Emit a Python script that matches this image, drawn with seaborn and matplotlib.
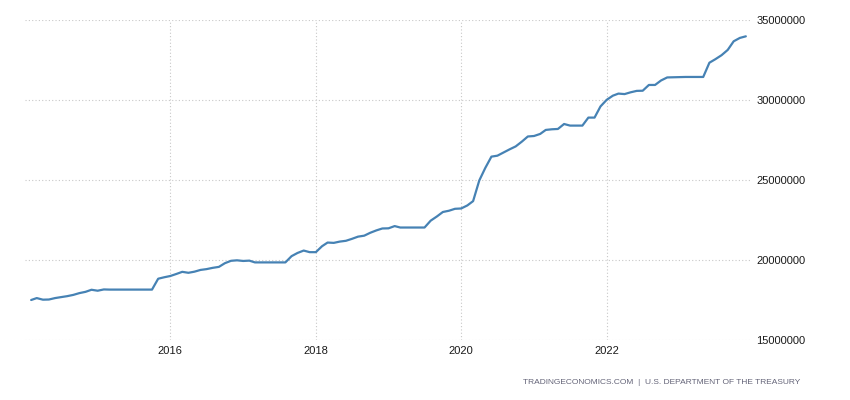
import pandas as pd
import seaborn as sns
import matplotlib
import matplotlib.pyplot as plt
import matplotlib.dates as mdates
from matplotlib.ticker import FuncFormatter

matplotlib.use("Agg")

# US government debt, USD trillion, monthly Feb 2014 - Dec 2023
debt_2014 = [17.50, 17.62, 17.52, 17.53, 17.62, 17.68, 17.74, 17.82, 17.93, 18.01, 18.14]
debt_2015 = [18.08, 18.16, 18.15, 18.15, 18.15, 18.15, 18.15, 18.15, 18.15, 18.15, 18.83, 18.92]
debt_2016 = [19.00, 19.13, 19.26, 19.20, 19.27, 19.38, 19.43, 19.51, 19.57, 19.80, 19.95, 19.98]
debt_2017 = [19.94, 19.96, 19.85, 19.85, 19.85, 19.85, 19.85, 19.85, 20.24, 20.44, 20.59, 20.49]
debt_2018 = [20.49, 20.86, 21.09, 21.07, 21.15, 21.20, 21.32, 21.46, 21.52, 21.70, 21.85, 21.97]
debt_2019 = [21.98, 22.12, 22.03, 22.03, 22.03, 22.03, 22.03, 22.46, 22.72, 23.00, 23.08, 23.20]
debt_2020 = [23.22, 23.41, 23.68, 24.97, 25.75, 26.46, 26.52, 26.72, 26.92, 27.10, 27.40, 27.72]
debt_2021 = [27.75, 27.88, 28.13, 28.17, 28.19, 28.50, 28.40, 28.40, 28.40, 28.90, 28.90, 29.60]
debt_2022 = [30.01, 30.27, 30.40, 30.37, 30.48, 30.57, 30.58, 30.94, 30.94, 31.22, 31.41, 31.42]
debt_2023 = [31.43, 31.44, 31.44, 31.44, 31.44, 32.33, 32.55, 32.80, 33.13, 33.67, 33.88, 33.98]

x_ticks = ["2016", "2018", "2020", "2022"]
y_ticks = [15000000, 20000000, 25000000, 30000000, 35000000]
source = "TRADINGECONOMICS.COM  |  U.S. DEPARTMENT OF THE TREASURY"

values = (debt_2014 + debt_2015 + debt_2016 + debt_2017 + debt_2018
          + debt_2019 + debt_2020 + debt_2021 + debt_2022 + debt_2023)
df = pd.DataFrame({
    "date": pd.date_range("2014-02-01", periods=len(values), freq="MS"),
    "debt": [v * 1e6 for v in values],  # USD million
})

sns.set_theme(style="white")
plt.rcParams["font.family"] = ["Liberation Sans", "DejaVu Sans"]

fig = plt.figure(figsize=(8.5, 4), dpi=100)
ax = fig.add_axes([25 / 850, 60 / 400, 727 / 850, 320 / 400])

sns.lineplot(x="date", y="debt", data=df, ax=ax, color="#4682b4", lw=1.6, clip_on=False)

ax.set_xlim(pd.Timestamp("2014-01-01"), pd.Timestamp("2024-01-01"))
ax.set_ylim(y_ticks[0], y_ticks[-1])
ax.set_yticks(y_ticks)
ax.yaxis.tick_right()
ax.yaxis.set_major_formatter(FuncFormatter(lambda v, p: f"{int(v)}"))
ax.set_xticks([pd.Timestamp(f"{y}-01-01") for y in x_ticks])
ax.xaxis.set_major_formatter(mdates.DateFormatter("%Y"))

ax.grid(True, color="#c8c8c8", lw=0.8, ls=(0, (1, 2)))
for s in ax.spines.values():
    s.set_visible(False)
ax.tick_params(axis="both", length=0, labelsize=8, colors="#1a1a1a")
ax.tick_params(axis="y", pad=3)
ax.tick_params(axis="x", pad=4)
ax.set_xlabel("")
ax.set_ylabel("")

fig.text(800 / 850, 18 / 400, source, ha="right", va="center", fontsize=6, color="#646478")

plt.savefig("out.png", dpi=100)
